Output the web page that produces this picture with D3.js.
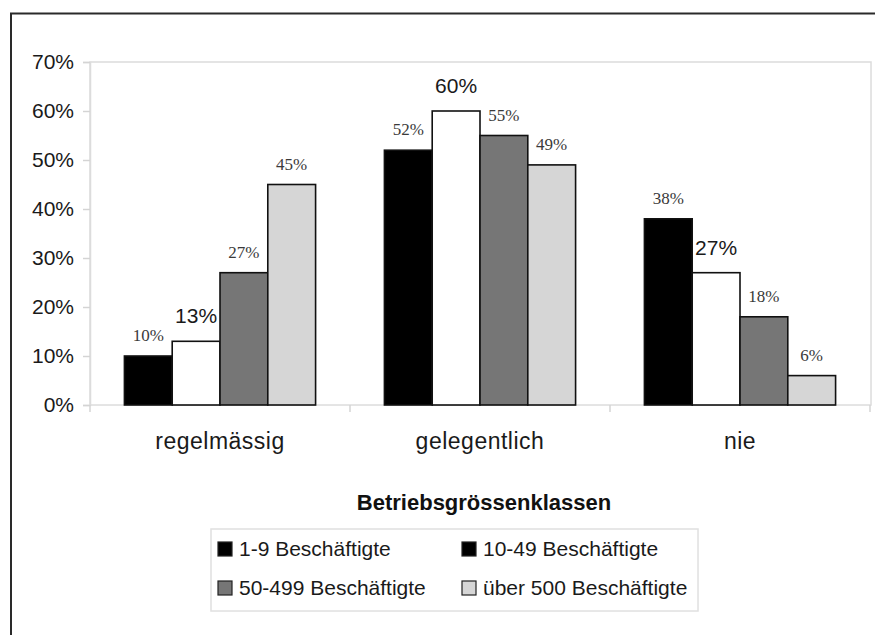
<!DOCTYPE html>
<html>
<head>
<meta charset="utf-8">
<script src="https://cdn.jsdelivr.net/npm/d3@7"></script>
<style>
  body { margin: 0; background: #fff; }
  svg { display: block; }
  .sans { font-family: "Liberation Sans", Arial, sans-serif; }
  .serif { font-family: "Liberation Serif", "Times New Roman", serif; }
</style>
</head>
<body>
<svg id="chart" width="875" height="635"></svg>
<script>
// data
var categories = ["regelmässig", "gelegentlich", "nie"];
var series = ["1-9 Beschäftigte", "10-49 Beschäftigte", "50-499 Beschäftigte", "über 500 Beschäftigte"];
var values = [
  [10, 13, 27, 45],   // regelmässig
  [52, 60, 55, 49],   // gelegentlich
  [38, 27, 18, 6]     // nie
];
var yTicks = [0, 10, 20, 30, 40, 50, 60, 70];
var legendTitle = "Betriebsgrössenklassen";

var barFill = ["#000000", "#ffffff", "#767676", "#d6d6d6"];
var legendFill = ["#000000", "#000000", "#767676", "#d6d6d6"];
// the white series gets its labels in a bigger sans font
var bigLabel = [false, true, false, false];

var plot = {left: 90, right: 871, top: 62, bottom: 405};

var svg = d3.select("#chart");

// outer frame (only top and left edges are visible)
svg.append("path")
    .attr("d", "M11,640 L11,13.5 L880,13.5")
    .attr("fill", "none")
    .attr("stroke", "#2a2a2a")
    .attr("stroke-width", 2);

var x0 = d3.scaleBand()
    .domain(categories)
    .range([plot.left, plot.left + 780])
    .padding(0);

var x1 = d3.scaleBand()
    .domain(d3.range(series.length))
    .range([0, x0.bandwidth()])
    .paddingInner(0)
    .paddingOuter(0.72);

var y = d3.scaleLinear()
    .domain([0, 70])
    .range([plot.bottom, plot.top]);

// plot area border
svg.append("rect")
    .attr("x", plot.left)
    .attr("y", plot.top)
    .attr("width", plot.right - plot.left)
    .attr("height", plot.bottom - plot.top)
    .attr("fill", "none")
    .attr("stroke", "#dcdcdc")
    .attr("stroke-width", 1.5);

// y axis
var yAxis = svg.append("g")
    .attr("transform", "translate(" + plot.left + ",0)")
    .call(d3.axisLeft(y)
        .tickValues(yTicks)
        .tickSize(7)
        .tickPadding(9)
        .tickFormat(function(d) { return d + "%"; }));
yAxis.select(".domain").attr("stroke", "#dcdcdc").attr("stroke-width", 1.5);
yAxis.selectAll(".tick line").attr("stroke", "#d4d4d4").attr("stroke-width", 1.5);
yAxis.selectAll(".tick text")
    .attr("class", "sans")
    .attr("font-size", 21)
    .attr("fill", "#1a1a1a");

// category separators below the baseline
var sepX = categories.map(function(c) { return x0(c); }).concat([x0.range()[1]]);
svg.selectAll(".sep")
    .data(sepX)
  .enter().append("line")
    .attr("x1", function(d) { return d; })
    .attr("x2", function(d) { return d; })
    .attr("y1", plot.bottom)
    .attr("y2", plot.bottom + 7)
    .attr("stroke", "#d4d4d4")
    .attr("stroke-width", 1.5);

// category labels
svg.selectAll(".cat")
    .data(categories)
  .enter().append("text")
    .attr("class", "sans")
    .attr("x", function(d) { return x0(d) + x0.bandwidth() / 2; })
    .attr("y", 449)
    .attr("text-anchor", "middle")
    .attr("font-size", 23)
    .attr("letter-spacing", 0.5)
    .attr("fill", "#1a1a1a")
    .text(function(d) { return d; });

// bars
var groups = svg.selectAll(".grp")
    .data(categories)
  .enter().append("g")
    .attr("transform", function(d) { return "translate(" + x0(d) + ",0)"; });

groups.selectAll("rect")
    .data(function(d, i) { return values[i].map(function(v, j) { return {v: v, s: j}; }); })
  .enter().append("rect")
    .attr("x", function(d) { return x1(d.s); })
    .attr("y", function(d) { return y(d.v); })
    .attr("width", x1.bandwidth())
    .attr("height", function(d) { return y(0) - y(d.v); })
    .attr("fill", function(d) { return barFill[d.s]; })
    .attr("stroke", "#111")
    .attr("stroke-width", 1.6);

groups.selectAll("text")
    .data(function(d, i) { return values[i].map(function(v, j) { return {v: v, s: j}; }); })
  .enter().append("text")
    .attr("class", function(d) { return bigLabel[d.s] ? "sans" : "serif"; })
    .attr("x", function(d) { return x1(d.s) + x1.bandwidth() / 2; })
    .attr("y", function(d) { return y(d.v) - (bigLabel[d.s] ? 18 : 15); })
    .attr("text-anchor", "middle")
    .attr("font-size", function(d) { return bigLabel[d.s] ? 21 : 17; })
    .attr("fill", function(d) { return bigLabel[d.s] ? "#1a1a1a" : "#3a3a3a"; })
    .text(function(d) { return d.v + "%"; });

// legend title
svg.append("text")
    .attr("class", "sans")
    .attr("x", 484)
    .attr("y", 510)
    .attr("text-anchor", "middle")
    .attr("font-size", 22)
    .attr("font-weight", "bold")
    .attr("fill", "#111")
    .text(legendTitle);

// legend box
svg.append("rect")
    .attr("x", 211)
    .attr("y", 529)
    .attr("width", 487)
    .attr("height", 82)
    .attr("fill", "#fff")
    .attr("stroke", "#e0e0e0")
    .attr("stroke-width", 1.5);

var legX = [218, 462];
var legY = [556, 595];
var legend = svg.selectAll(".leg")
    .data(series)
  .enter().append("g")
    .attr("transform", function(d, i) {
      return "translate(" + legX[i % 2] + "," + legY[Math.floor(i / 2)] + ")";
    });

legend.append("rect")
    .attr("x", 0)
    .attr("y", -14)
    .attr("width", 14)
    .attr("height", 14)
    .attr("fill", function(d, i) { return legendFill[i]; })
    .attr("stroke", "#222")
    .attr("stroke-width", 1.2);

legend.append("text")
    .attr("class", "sans")
    .attr("x", 21)
    .attr("y", 0)
    .attr("font-size", 21)
    .attr("fill", "#1a1a1a")
    .text(function(d) { return d; });
</script>
</body>
</html>
